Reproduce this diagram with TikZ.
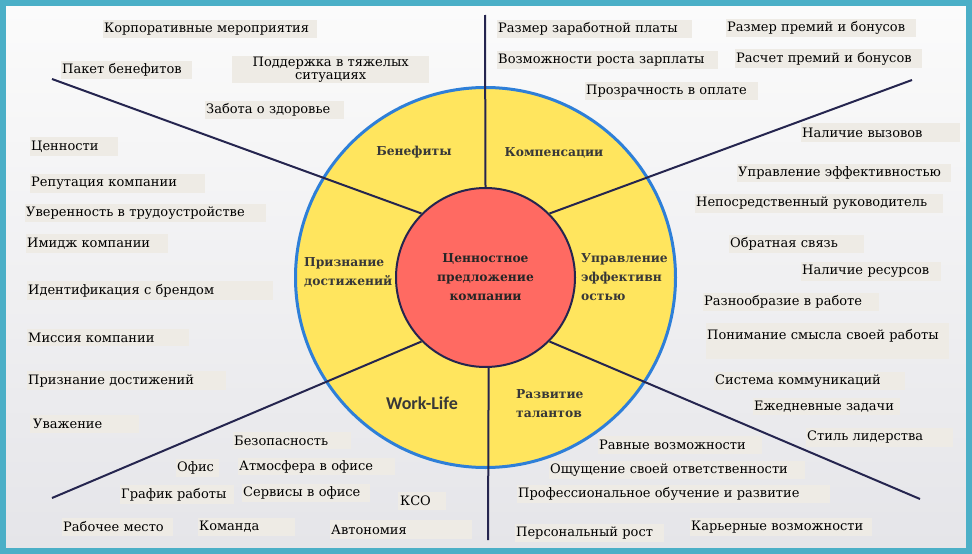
\documentclass[tikz,border=0pt]{standalone}
\usepackage{fontspec}
\setmainfont{DejaVu Serif}
\newfontfamily\wlfont{Carlito}
\usepackage{tikz}
\definecolor{frameteal}{HTML}{4BAFC7}
\definecolor{bgtop}{HTML}{FBFBFB}
\definecolor{bgbot}{HTML}{E5E5E9}
\definecolor{tagbg}{HTML}{EEEBE5}
\definecolor{ringyellow}{HTML}{FFE55E}
\definecolor{ringblue}{HTML}{2E7FD8}
\definecolor{corered}{HTML}{FF6A62}
\definecolor{spokenavy}{HTML}{25254F}
\definecolor{headgray}{HTML}{383838}

\begin{document}
\begin{tikzpicture}[x=1pt,y=-1pt,
	tag/.style={fill=tagbg,anchor=west,inner xsep=1pt,inner ysep=0pt,align=left,minimum height=18pt,font=\fontsize{13}{14}\selectfont,text=black},
	sector/.style={font=\bfseries\fontsize{12.3}{19}\selectfont,text=headgray,inner sep=0pt},
	spoke/.style={spokenavy,line width=2pt}]
	    \useasboundingbox (0,0) rectangle (972,554);
	    \shade[top color=bgtop,bottom color=bgbot] (6,6) rectangle (966,548);
	    \draw[frameteal,line width=6pt] (3,3) rectangle (969,551);
	    % wheel
	    \node[circle,fill=ringyellow,draw=ringblue,line width=3pt,minimum size=380pt,inner sep=0pt] (ring) at (485.5,277.5) {};
	    \coordinate (endN) at (485,15);
	    \coordinate (endS) at (488,540);
	    \coordinate (endNW) at (52,79);
	    \coordinate (endNE) at (912,80);
	    \coordinate (endSW) at (52,498);
	    \coordinate (endSE) at (920,499);
	    \node[circle,fill=corered,draw=spokenavy,line width=2pt,minimum size=179pt,inner sep=0pt] (core) at (485.5,277.5) {};
	    \draw[spoke] (core.90) -- (endN);
	    \draw[spoke] (core.272) -- (endS);
	    \draw[spoke] (core.135) -- (endNW);
	    \draw[spoke] (core.45) -- (endNE);
	    \draw[spoke] (core.225) -- (endSW);
	    \draw[spoke] (core.315) -- (endSE);
	    \node[sector,align=center,text=black!85] (coretext) at (core.center) {Ценностное\\предложение\\компании};
	    % sectors
	    \node[sector] (benef) at (414,152) {Бенефиты};
	    \node[sector] (komp) at (554,153) {Компенсации};
	    \node[sector,anchor=west,align=left] (prizn) at (304,272.5) {Признание\\достижений};
	    \node[sector,anchor=west,align=left] (upr) at (581,277) {Управление\\эффективн\\остью};
	    \node[sector,font=\wlfont\bfseries\fontsize{18}{19}\selectfont] (worklife) at (422,403) {Work-Life};
	    \node[sector,anchor=west,align=left] (razv) at (516,403.5) {Развитие\\талантов};
	    % benefits
	    \node[tag,text width=212pt] (korp) at (103,29) {Корпоративные мероприятия};
	    \node[tag,text width=129pt] (paket) at (61,70) {Пакет бенефитов};
	    \node[tag,text width=195pt,align=center,minimum height=27pt,font=\fontsize{13}{13.5}\selectfont] (podd) at (232,69.5) {Поддержка в тяжелых\\ситуациях};
	    \node[tag,text width=137pt] (zabota) at (205,110) {Забота о здоровье};
	    % recognition
	    \node[tag,text width=86pt,minimum height=19pt] (tsen) at (30,146.5) {Ценности};
	    \node[tag,text width=173pt,minimum height=19pt] (reput) at (30,183.5) {Репутация компании};
	    \node[tag,text width=239pt] (uver) at (25,213) {Уверенность в трудоустройстве};
	    \node[tag,text width=140pt,minimum height=19pt] (imidzh) at (26,243.5) {Имидж компании};
	    \node[tag,text width=244pt,minimum height=19pt] (ident) at (27,290.5) {Идентификация с брендом};
	    \node[tag,text width=160pt,minimum height=17pt] (missia) at (27,337.5) {Миссия компании};
	    \node[tag,text width=197pt,minimum height=19pt] (priznd) at (27,380.5) {Признание достижений};
	    \node[tag,text width=103pt,inner xsep=3pt] (uvazh) at (30,424) {Уважение};
	    % work-life
	    \node[tag,text width=116pt,minimum height=17pt] (bezop) at (233,440.5) {Безопасность};
	    \node[tag,text width=41pt] (ofis) at (176,468) {Офис};
	    \node[tag,text width=155pt,minimum height=17pt] (atmos) at (238,466.5) {Атмосфера в офисе};
	    \node[tag,text width=112pt,minimum height=19pt] (grafik) at (120,494.5) {График работы};
	    \node[tag,text width=126pt] (servis) at (242,493) {Сервисы в офисе};
	    \node[tag,text width=44pt,inner xsep=2pt] (kso) at (398,501) {КСО};
	    \node[tag,text width=109pt] (rabm) at (62,527) {Рабочее место};
	    \node[tag,text width=95pt] (komanda) at (198,527) {Команда};
	    \node[tag,text width=140pt,minimum height=19pt] (avtonom) at (330,529.5) {Автономия};
	    % compensation
	    \node[tag,text width=193pt] (razmzp) at (497,29) {Размер заработной платы};
	    \node[tag,text width=219pt] (vozmrost) at (497,60) {Возможности роста зарплаты};
	    \node[tag,text width=171pt] (prozr) at (585,91) {Прозрачность в оплате};
	    \node[tag,text width=188pt] (razmprem) at (726,28) {Размер премий и бонусов};
	    \node[tag,text width=185pt,minimum height=19pt] (raschet) at (735,58.5) {Расчет премий и бонусов};
	    % performance
	    \node[tag,text width=157pt,minimum height=19pt] (vyzov) at (801,132.5) {Наличие вызовов};
	    \node[tag,text width=212pt] (upreff) at (737,173) {Управление эффективностью};
	    \node[tag,text width=246pt,minimum height=19pt] (neposr) at (695,203.5) {Непосредственный руководитель};
	    \node[tag,text width=133pt] (obrsv) at (729,244) {Обратная связь};
	    \node[tag,text width=138pt,minimum height=19pt] (resurs) at (801,271.5) {Наличие ресурсов};
	    \node[tag,text width=174pt] (raznoobr) at (703,302) {Разнообразие в работе};
	    \node[tag,text width=241pt,minimum height=36pt] (ponim) at (706,341) {Понимание смысла своей работы\\\mbox{}};
	    \node[tag,text width=189pt] (sistkom) at (714,381) {Система коммуникаций};
	    \node[tag,text width=145pt,minimum height=17pt] (ezhedn) at (753,406.5) {Ежедневные задачи};
	    \node[tag,text width=145pt,minimum height=19pt] (stil) at (806,437.5) {Стиль лидерства};
	    % talents
	    \node[tag,text width=162pt] (ravn) at (598,445) {Равные возможности};
	    \node[tag,text width=254pt] (oshch) at (549,470) {Ощущение своей ответственности};
	    \node[tag,text width=311pt] (prof) at (517,494) {Профессиональное обучение и развитие};
	    \node[tag,text width=147pt] (person) at (515,533) {Персональный рост};
	    \node[tag,text width=180pt] (karier) at (690,527) {Карьерные возможности};
	\end{tikzpicture}
\end{document}
